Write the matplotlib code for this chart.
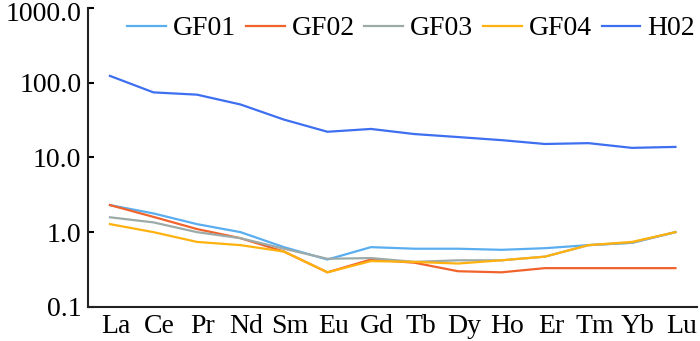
import numpy as np
import matplotlib.pyplot as plt
import matplotlib.transforms as mtransforms
from matplotlib.ticker import FixedLocator, FormatStrFormatter, NullLocator

plt.rcParams['font.family'] = ['Liberation Serif', 'DejaVu Serif']

elements = ['La', 'Ce', 'Pr', 'Nd', 'Sm', 'Eu', 'Gd', 'Tb', 'Dy', 'Ho', 'Er', 'Tm', 'Yb', 'Lu']

gf01 = [2.3, 1.78, 1.28, 1.0, 0.63, 0.43, 0.63, 0.60, 0.60, 0.58, 0.61, 0.67, 0.72, 1.0]
gf02 = [2.3, 1.6, 1.1, 0.83, 0.55, 0.29, 0.43, 0.39, 0.30, 0.29, 0.33, 0.33, 0.33, 0.33]
gf03 = [1.58, 1.35, 1.0, 0.83, 0.6, 0.44, 0.45, 0.40, 0.42, 0.42, 0.47, 0.67, 0.72, 1.0]
gf04 = [1.28, 1.0, 0.74, 0.67, 0.55, 0.29, 0.41, 0.40, 0.38, 0.42, 0.47, 0.67, 0.74, 1.0]
h02 = [123, 74, 69, 51, 32, 22, 24, 20.5, 18.7, 17, 15.1, 15.5, 13.4, 13.8]

series = [('GF01', gf01, '#5aaef0'),
          ('GF02', gf02, '#f0632c'),
          ('GF03', gf03, '#9caaa8'),
          ('GF04', gf04, '#ffb20f'),
          ('H02', h02, '#3d6ff0')]

fig = plt.figure(figsize=(7, 3.41), dpi=100)
ax = fig.add_axes([0.126, 0.1, 0.87, 0.877])

x = np.arange(len(elements))
for name, vals, col in series:
    ax.plot(x, vals, color=col, lw=1.6, label=name)

ax.set_yscale('log')
ax.set_ylim(0.1, 1000)
ax.set_xlim(-0.5, 13.5)
ax.yaxis.set_major_locator(FixedLocator([0.1, 1, 10, 100, 1000]))
ax.yaxis.set_minor_locator(NullLocator())
ax.yaxis.set_major_formatter(FormatStrFormatter('%.1f'))
ax.set_xticks(x)
ax.set_xticklabels(elements)
ax.tick_params(axis='x', length=0, labelsize=20, pad=5)
ax.tick_params(axis='y', direction='in', length=4, width=1.5, labelsize=20, pad=5)

# nudge x labels slightly right, as in the original
shift = mtransforms.ScaledTranslation(6 / 100, 0, fig.dpi_scale_trans)
for lab in ax.get_xticklabels():
    lab.set_transform(lab.get_transform() + shift)
# keep the top label inside the figure
ytl = ax.get_yticklabels()
ytl[-1].set_transform(ytl[-1].get_transform() +
                      mtransforms.ScaledTranslation(0, -4 / 100, fig.dpi_scale_trans))

ax.spines['top'].set_visible(False)
ax.spines['right'].set_visible(False)
for s in ['left', 'bottom']:
    ax.spines[s].set_linewidth(1.5)
    ax.spines[s].set_color('#222222')

ax.legend(loc='upper center', bbox_to_anchor=(0.53, 1.01), ncol=5, frameon=False,
          fontsize=20, handlelength=1.4, handletextpad=0.25, columnspacing=0.35,
          borderaxespad=0.0)

plt.savefig('out.png', dpi=100)
